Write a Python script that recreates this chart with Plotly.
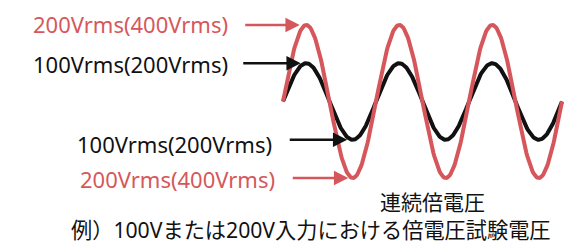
import numpy as np
import plotly.graph_objects as go

# --- data -------------------------------------------------------------
vrms_low = 100          # Vrms (black wave)
vrms_high = 200         # Vrms (red wave)
cycles = 3              # number of full cycles shown
samples_per_cycle = 120

label_high = "200Vrms(400Vrms)"
label_low = "100Vrms(200Vrms)"
caption = "連続倍電圧"
footnote = "例）100Vまたは200V入力における倍電圧試験電圧"

RED = "#d6575b"
BLACK = "#111111"

# --- waves (sinusoidal test voltage) ----------------------------------
t = np.linspace(0, cycles, cycles * samples_per_cycle + 1)
peak_low = vrms_low * np.sqrt(2)
peak_high = vrms_high * np.sqrt(2)
v_low = peak_low * np.sin(2 * np.pi * t)
v_high = peak_high * np.sin(2 * np.pi * t)

W, H = 575, 244
x0_px, period_px = 283, 93.0      # where the wave starts / px per cycle
y0_px, px_per_v = 101.5, 76.5 / peak_high

xr = [-x0_px / period_px, (W - x0_px) / period_px]
yr = [-(H - y0_px) / px_per_v, y0_px / px_per_v]

fig = go.Figure()
fig.add_trace(go.Scatter(x=t, y=v_low, mode="lines",
                         line=dict(color=BLACK, width=4), hoverinfo="skip"))
fig.add_trace(go.Scatter(x=t, y=v_high, mode="lines",
                         line=dict(color=RED, width=4), hoverinfo="skip"))

FONT = "Noto Sans, Noto Sans CJK JP"


def px_x(px):
    return px / W


def px_y(py):
    return 1 - py / H


def label(text, left, cy, color, size, yanchor="middle"):
    fig.add_annotation(xref="paper", yref="paper", x=px_x(left), y=px_y(cy),
                       xanchor="left", yanchor=yanchor, text=text, borderpad=0,
                       showarrow=False, font=dict(family=FONT, size=size, color=color))


label(label_high, 32, 24, RED, 22)
label(label_low, 32, 64, BLACK, 22)
label(label_low, 76, 144, BLACK, 22)
label(label_high, 79, 179, RED, 22)
label(caption, 379, 202, BLACK, 21)
label(footnote, 70, 229.5, BLACK, 21.2)


def arrow(tip_t, tip_v, length_px, color):
    fig.add_annotation(xref="x", yref="y", x=tip_t, y=tip_v,
                       ax=-length_px, ay=0, axref="pixel", ayref="pixel",
                       text="", showarrow=True, arrowhead=2, arrowsize=1.1,
                       arrowwidth=2.6, arrowcolor=color, standoff=0)


# arrows pointing at the peaks/troughs of each wave
arrow(0.25 - 6.5 / period_px, peak_high, 56, RED)
arrow(0.25 - 5.5 / period_px, peak_low, 59, BLACK)
arrow(0.75 - 5.5 / period_px, -peak_low, 59, BLACK)
arrow(0.75 - 4.5 / period_px, -peak_high, 57, RED)

fig.update_layout(width=W, height=H, margin=dict(l=0, r=0, t=0, b=0),
                  paper_bgcolor="white", plot_bgcolor="white",
                  showlegend=False)
fig.update_xaxes(range=xr, visible=False, fixedrange=True)
fig.update_yaxes(range=yr, visible=False, fixedrange=True)

fig.write_html("out.html", config={"displayModeBar": False},
               post_script="document.body.style.margin='0px';")
